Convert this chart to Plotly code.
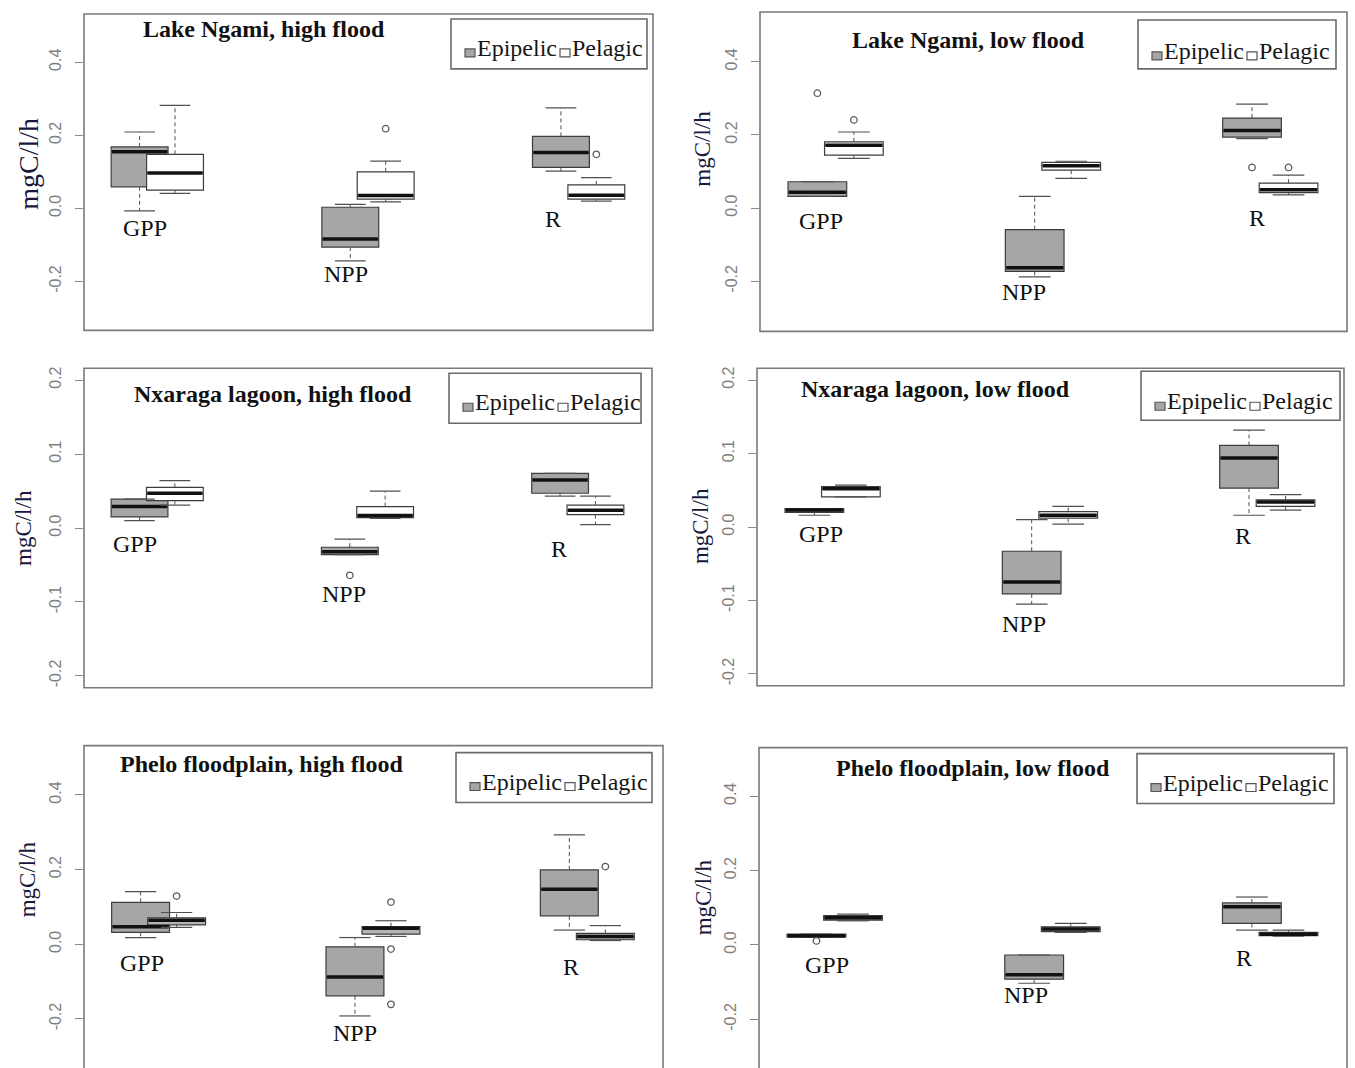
import plotly.graph_objects as go

W, H = 1355, 1068

# ---------------- data ----------------
categories = ["GPP", "NPP", "R"]
series_names = ["Epipelic", "Pelagic"]
panel_titles = [
    "Lake Ngami, high flood", "Lake Ngami, low flood",
    "Nxaraga lagoon, high flood", "Nxaraga lagoon, low flood",
    "Phelo floodplain, high flood", "Phelo floodplain, low flood",
]
y_title = "mgC/l/h"

# each tuple: (lower whisker, Q1, median, Q3, upper whisker) for GPP, NPP, R
ngami_high_epipelic = [(-0.007, 0.059, 0.155, 0.168, 0.209),
                       (-0.144, -0.106, -0.084, 0.003, 0.011),
                       (0.102, 0.112, 0.153, 0.197, 0.275)]
ngami_high_pelagic = [(0.041, 0.050, 0.097, 0.148, 0.282),
                      (0.018, 0.025, 0.035, 0.100, 0.129),
                      (0.020, 0.025, 0.036, 0.064, 0.084)]
ngami_low_epipelic = [(0.032, 0.032, 0.043, 0.072, 0.072),
                      (-0.188, -0.173, -0.163, -0.059, 0.032),
                      (0.190, 0.194, 0.212, 0.246, 0.284)]
ngami_low_pelagic = [(0.136, 0.145, 0.172, 0.181, 0.208),
                     (0.081, 0.104, 0.116, 0.125, 0.128),
                     (0.036, 0.042, 0.050, 0.068, 0.090)]
nxaraga_high_epipelic = [(0.010, 0.015, 0.029, 0.039, 0.039),
                         (-0.036, -0.036, -0.032, -0.026, -0.015),
                         (0.043, 0.047, 0.065, 0.074, 0.074)]
nxaraga_high_pelagic = [(0.031, 0.037, 0.047, 0.055, 0.064),
                        (0.013, 0.014, 0.017, 0.029, 0.050),
                        (0.0045, 0.018, 0.024, 0.031, 0.043)]
nxaraga_low_epipelic = [(0.016, 0.020, 0.023, 0.025, 0.025),
                        (-0.105, -0.091, -0.075, -0.033, 0.010),
                        (0.016, 0.053, 0.094, 0.111, 0.132)]
nxaraga_low_pelagic = [(0.041, 0.041, 0.052, 0.055, 0.057),
                       (0.004, 0.012, 0.016, 0.021, 0.028),
                       (0.023, 0.028, 0.034, 0.037, 0.044)]
phelo_high_epipelic = [(0.018, 0.032, 0.047, 0.112, 0.141),
                       (-0.192, -0.138, -0.088, -0.007, 0.018),
                       (0.038, 0.076, 0.147, 0.199, 0.293)]
phelo_high_pelagic = [(0.045, 0.052, 0.064, 0.071, 0.085),
                      (0.021, 0.027, 0.043, 0.047, 0.063),
                      (0.010, 0.012, 0.021, 0.029, 0.050)]
phelo_low_epipelic = [(0.021, 0.021, 0.025, 0.029, 0.029),
                      (-0.103, -0.092, -0.080, -0.027, -0.027),
                      (0.040, 0.058, 0.103, 0.113, 0.129)]
phelo_low_pelagic = [(0.065, 0.067, 0.073, 0.079, 0.083),
                     (0.034, 0.036, 0.043, 0.049, 0.058),
                     (0.024, 0.025, 0.029, 0.034, 0.040)]

# outliers: (category index, value)
ngami_high_epipelic_out = []
ngami_high_pelagic_out = [(1, 0.218), (2, 0.148)]
ngami_low_epipelic_out = [(0, 0.314), (2, 0.111)]
ngami_low_pelagic_out = [(0, 0.241), (2, 0.111)]
nxaraga_high_epipelic_out = [(1, -0.064)]
nxaraga_high_pelagic_out = []
nxaraga_low_epipelic_out = []
nxaraga_low_pelagic_out = []
phelo_high_epipelic_out = []
phelo_high_pelagic_out = [(0, 0.129), (1, 0.113), (1, -0.013), (1, -0.161), (2, 0.208)]
phelo_low_epipelic_out = [(0, 0.011)]
phelo_low_pelagic_out = []

y_tickvals_wide = [-0.2, 0.0, 0.2, 0.4]
y_ticktext_wide = ["-0.2", "0.0", "0.2", "0.4"]
y_tickvals_narrow = [-0.2, -0.1, 0.0, 0.1, 0.2]
y_ticktext_narrow = ["-0.2", "-0.1", "0.0", "0.1", "0.2"]

# category label placement (x in group units, y in data units)
label_x = [[0.943, 1.897, 2.88], [0.933, 1.866, 2.94], [0.893, 1.887, 2.913],
           [0.948, 1.88, 2.89], [0.923, 1.915, 2.923], [0.966, 1.88, 2.88]]
label_y = [[-0.055, -0.18, -0.03], [-0.036, -0.23, -0.027], [-0.022, -0.089, -0.029],
           [-0.01, -0.132, -0.012], [-0.051, -0.238, -0.06], [-0.054, -0.134, -0.036]]

# ---------------- layout geometry (pixels) ----------------
frames_px = [(84, 653, 12, 329), (760, 1347, 10, 330),
             (84, 652, 367, 687), (757, 1344, 367, 685),
             (84, 663, 745, 1068), (759, 1347, 747, 1068)]
frame_bottom_visible = [True, True, True, True, False, False]
y_ranges = [(-0.334, 0.532), (-0.337, 0.536), (-0.216, 0.216),
            (-0.216, 0.216), (-0.3314, 0.532), (-0.331, 0.531)]
x_range = (0.652, 3.353)
legend_px = [(451, 647, 17, 67, 46), (1138, 1336, 18, 67, 49),
             (449, 641, 372, 422, 401), (1141, 1340, 370, 419, 400),
             (456, 652, 752, 802, 781), (1137, 1334, 753, 803, 782)]
title_px = [(264, 27), (968, 38), (273, 393), (935, 388), (261, 763), (973, 767)]
ytitle_px = [(29, 162, 28), (703, 147, 23), (23, 527, 23), (700, 525, 23), (27, 879, 23), (703, 897, 23)]

OFFSET = 0.084
BW = 0.27
EPI_FILL = "#a6a6a6"
PEL_FILL = ["white", "white", "white", "white", "#b4b4b4", "#b4b4b4"]
BOX_LINE = "#3c3c3c"
SERIF = "Liberation Serif, Times New Roman, serif"
SANS = "Liberation Sans, Arial, sans-serif"

panel_data = [
    (ngami_high_epipelic, ngami_high_pelagic, ngami_high_epipelic_out, ngami_high_pelagic_out),
    (ngami_low_epipelic, ngami_low_pelagic, ngami_low_epipelic_out, ngami_low_pelagic_out),
    (nxaraga_high_epipelic, nxaraga_high_pelagic, nxaraga_high_epipelic_out, nxaraga_high_pelagic_out),
    (nxaraga_low_epipelic, nxaraga_low_pelagic, nxaraga_low_epipelic_out, nxaraga_low_pelagic_out),
    (phelo_high_epipelic, phelo_high_pelagic, phelo_high_epipelic_out, phelo_high_pelagic_out),
    (phelo_low_epipelic, phelo_low_pelagic, phelo_low_epipelic_out, phelo_low_pelagic_out),
]


def px_x(v):
    return v / W


def px_y(v):
    return 1 - v / H


fig = go.Figure()
shapes = []
annotations = []
layout_axes = {}

for p in range(6):
    n = p + 1
    xa = "x" if n == 1 else f"x{n}"
    ya = "y" if n == 1 else f"y{n}"
    epi, pel, epi_out, pel_out = panel_data[p]
    boxes = [(epi, -OFFSET, EPI_FILL, epi_out), (pel, OFFSET, PEL_FILL[p], pel_out)]

    # boxes
    for stats, off, fill, _ in boxes:
        xs = [i + 1 + off for i in range(len(categories))]
        fig.add_trace(go.Box(
            x=xs, q1=[s[1] for s in stats], median=[s[2] for s in stats],
            q3=[s[3] for s in stats], lowerfence=[s[1] for s in stats],
            upperfence=[s[3] for s in stats], width=BW, whiskerwidth=0,
            fillcolor=fill, line=dict(color=BOX_LINE, width=1.2),
            boxpoints=False, showlegend=False, hoverinfo="skip",
            xaxis=xa, yaxis=ya))
    # whiskers, staples, medians, outliers
    for stats, off, fill, outs in boxes:
        wx, wy, sx, sy, mx, my = [], [], [], [], [], []
        for i, s in enumerate(stats):
            c = i + 1 + off
            lo, q1, med, q3, hi = s
            wx += [c, c, None, c, c, None]
            wy += [q3, hi, None, q1, lo, None]
            sx += [c - BW * 0.27, c + BW * 0.27, None, c - BW * 0.27, c + BW * 0.27, None]
            sy += [hi, hi, None, lo, lo, None]
            mx += [c - BW / 2 + 0.004, c + BW / 2 - 0.004, None]
            my += [med, med, None]
        fig.add_trace(go.Scatter(x=wx, y=wy, mode="lines",
                                 line=dict(color="#505050", width=1, dash="4px,3px"),
                                 showlegend=False, hoverinfo="skip", xaxis=xa, yaxis=ya))
        fig.add_trace(go.Scatter(x=sx, y=sy, mode="lines",
                                 line=dict(color="#505050", width=1.2),
                                 showlegend=False, hoverinfo="skip", xaxis=xa, yaxis=ya))
        fig.add_trace(go.Scatter(x=mx, y=my, mode="lines",
                                 line=dict(color="#111111", width=3.5),
                                 showlegend=False, hoverinfo="skip", xaxis=xa, yaxis=ya))
        if outs:
            fig.add_trace(go.Scatter(
                x=[o[0] + 1 + off for o in outs], y=[o[1] for o in outs], mode="markers",
                marker=dict(symbol="circle-open", size=6.5, color="#5a5a5a", line=dict(width=1.3)),
                showlegend=False, hoverinfo="skip", xaxis=xa, yaxis=ya))

    # axes
    x0, x1, y0, y1 = frames_px[p]
    wide = p not in (2, 3)
    layout_axes["xaxis" if n == 1 else f"xaxis{n}"] = dict(
        domain=[px_x(x0), px_x(x1)], range=list(x_range), visible=False,
        anchor=ya, fixedrange=True)
    layout_axes["yaxis" if n == 1 else f"yaxis{n}"] = dict(
        domain=[px_y(y1), px_y(y0)], range=list(y_ranges[p]), anchor=xa,
        tickvals=y_tickvals_wide if wide else y_tickvals_narrow,
        ticktext=y_ticktext_wide if wide else y_ticktext_narrow,
        tickangle=-90, ticks="outside", ticklen=8, tickcolor="#8a8a8a", tickwidth=1.2,
        tickfont=dict(family=SANS, size=16, color="#7e7e7e"),
        ticklabelstandoff=8, showline=False, showgrid=False, zeroline=False,
        fixedrange=True)

    # frame
    shapes.append(dict(type="rect", xref="paper", yref="paper",
                       x0=px_x(x0), x1=px_x(x1),
                       y0=px_y(y1) if frame_bottom_visible[p] else -0.01, y1=px_y(y0),
                       line=dict(color="#7a7a7a", width=1.6), fillcolor="rgba(0,0,0,0)",
                       layer="above"))

    # legend
    lx0, lx1, ly0, ly1, lyc = legend_px[p]
    shapes.append(dict(type="rect", xref="paper", yref="paper",
                       x0=px_x(lx0), x1=px_x(lx1), y0=px_y(ly1), y1=px_y(ly0),
                       line=dict(color="#6a6a6a", width=1.6), fillcolor="white", layer="above"))
    for k, (dx, fill) in enumerate([(14, EPI_FILL), (109, "white")]):
        shapes.append(dict(type="rect", xref="paper", yref="paper",
                           x0=px_x(lx0 + dx), x1=px_x(lx0 + dx + 10),
                           y0=px_y(lyc + 9), y1=px_y(lyc + 1),
                           line=dict(color="#555555", width=1.2), fillcolor=fill, layer="above"))
    for dx, name in zip([24, 119], series_names):
        annotations.append(dict(xref="paper", yref="paper", x=px_x(lx0 + dx), y=px_y(lyc),
                                text=name, showarrow=False, xanchor="left", yanchor="middle",
                                font=dict(family=SERIF, size=24, color="#161616")))

    # title
    tx, ty = title_px[p]
    annotations.append(dict(xref="paper", yref="paper", x=px_x(tx), y=px_y(ty),
                            text=panel_titles[p], showarrow=False, xanchor="center",
                            yanchor="middle",
                            font=dict(family=SERIF, size=24, color="#111111", weight="bold")))
    # y title
    yx, yy, ys = ytitle_px[p]
    annotations.append(dict(xref="paper", yref="paper", x=px_x(yx), y=px_y(yy),
                            text=y_title, showarrow=False, textangle=-90, xanchor="center",
                            yanchor="middle",
                            font=dict(family=SERIF, size=ys, color="#18183c")))
    # category labels
    for ci, cat in enumerate(categories):
        annotations.append(dict(xref=xa, yref=ya, x=label_x[p][ci], y=label_y[p][ci],
                                text=cat, showarrow=False, xanchor="center", yanchor="middle",
                                font=dict(family=SERIF, size=24, color="#111111")))

fig.update_layout(
    width=W, height=H, margin=dict(l=0, r=0, t=0, b=0),
    paper_bgcolor="white", plot_bgcolor="white",
    boxmode="overlay", showlegend=False,
    shapes=shapes, annotations=annotations, **layout_axes)

fig.write_html("out.html")
